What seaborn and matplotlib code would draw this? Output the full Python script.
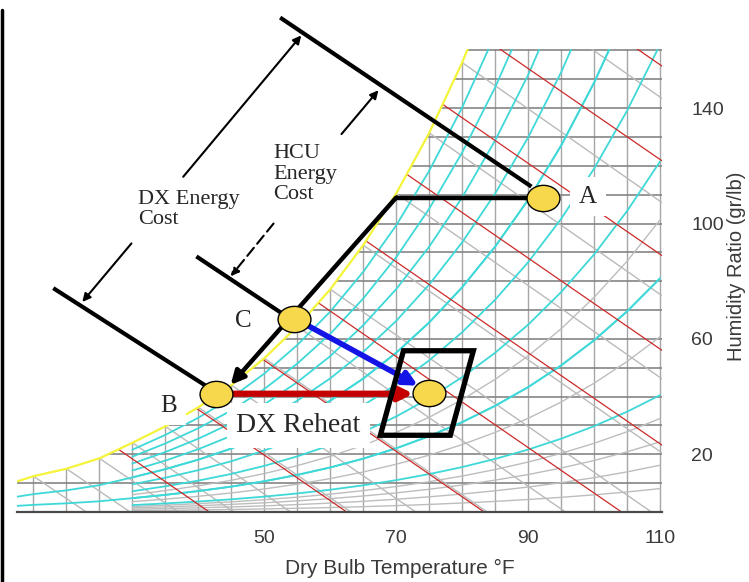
import numpy as np
import matplotlib
matplotlib.use("Agg")
import matplotlib.pyplot as plt
import seaborn as sns
from matplotlib.patches import Polygon
from matplotlib.path import Path
from matplotlib.transforms import Affine2D
from matplotlib.lines import Line2D

# saturation curve (dry bulb F, humidity ratio gr/lb)
sat_temp = [12.5, 15, 20, 25, 30, 35, 40, 45, 50, 55, 60, 65, 70, 75, 80, 85, 90, 95, 100, 105, 110]
sat_w = [10.6, 12.4, 15.0, 18.6, 24.0, 29.7, 36.3, 44.0, 53.3, 64.3, 77.2, 92.5, 110.4, 131.4,
         155.8, 184.0, 216.4, 254.0, 297.6, 347.7, 405.0]

# line families of the chart
rh_levels = [0.1, 0.2, 0.3, 0.4, 0.5, 0.6, 0.7, 0.8, 0.9]
rh_cold_levels = [0.2, 0.5]
rh_gray_levels = [0.02, 0.04, 0.06, 0.08, 0.15, 0.25]
enthalpy_levels = [10, 15, 20, 25, 30, 35, 40, 45, 50]
wetbulb_levels = [15, 20, 25, 30, 35, 40, 45, 50, 55, 60, 65, 70, 75, 80, 85, 90]
grid_temp = list(range(15, 115, 5))
grid_w = list(range(10, 170, 10))
x_ticks = [50, 70, 90, 110]
y_ticks = [20, 60, 100, 140]

# states on the chart
state_names = ["A", "B", "C"]
state_temp = [92.3, 42.6, 54.5, 75.0]
state_w = [109.0, 41.0, 67.0, 41.4]
label_temp = [99.1, 35.5, 46.8]
label_w = [109.3, 36.9, 66.2]

# process path A -> corner -> C -> B
path_temp = [92.3, 70.0]
path_w = [109.0, 109.0]
path_arrow = [(70.0, 109.0), (44.9, 44.1)]
blue_arrow = [(55.9, 65.5), (73.3, 43.8)]
red_arrow = [(44.8, 41.0), (72.6, 41.0)]

# comfort box
zone_temp = [71.1, 81.7, 78.2, 67.6]
zone_w = [55.9, 55.9, 26.6, 26.6]

# enthalpy dimension lines through A, C, B
dim_temp = [[52.4, 90.5], [39.7, 53.3], [18.0, 41.1]]
dim_w = [[171.4, 112.8], [88.6, 67.9], [77.6, 43.8]]
dx_arrows = [[(37.7, 116.2), (55.6, 165.2)], [(29.85, 93.1), (22.4, 72.8)]]
hcu_arrows = [[(61.7, 131.0), (67.3, 146.2)], [(51.4, 100.0), (44.9, 81.7)]]

sns.set_style("white")
plt.rcParams['font.family'] = ['Liberation Sans', 'DejaVu Sans']
serif = ['Liberation Serif', 'DejaVu Serif']

fig = plt.figure(figsize=(7.49, 5.82), dpi=100)
ax = fig.add_axes([17 / 749, 1 - 512 / 582, 645 / 749, 463 / 582])
ax.set_xlim(12.5, 110.3)
ax.set_ylim(0, 160.5)

# region under the saturation curve
clip = Polygon([(12.5, 0)] + list(zip(sat_temp, sat_w)) + [(112, 405), (112, 0)],
               closed=True, transform=ax.transData)

lines = []
for t in grid_temp:
    lines += ax.plot([t, t], [0, 170], color='#a6a6a6', lw=1, zorder=1)
for w in grid_w:
    lines += ax.plot([0, 112], [w, w], color='#858585', lw=1.2, zorder=1)

st = np.array(sat_temp)
sw = np.array(sat_w)
warm = st >= 30
for rh in rh_levels:
    lines += ax.plot(st[warm], rh * sw[warm], color='#3fd8d8', lw=1.3, zorder=2)
for rh in rh_cold_levels:
    lines += ax.plot(st, rh * sw, color='#3fd8d8', lw=1.3, zorder=2)
for rh in rh_gray_levels:
    lines += ax.plot(st[warm], rh * sw[warm], color='#bdbdbd', lw=1, zorder=1.5)

for twb in wetbulb_levels:
    ws = sat_w[sat_temp.index(twb)] / 7000
    t_end = twb + (1093 - 0.556 * twb) * ws / 0.24
    lines += ax.plot([twb, t_end], [ws * 7000, 0], color='#bababa', lw=1, zorder=1.5)

for h in enthalpy_levels:
    w0 = 7000 * (h - 0.24 * 10) / (1061 + 0.444 * 10)
    lines += ax.plot([10, h / 0.24], [w0, 0], color='#cc2a2a', lw=0.9, zorder=2)

for ln in lines:
    ln.set_clip_path(clip)

sns.lineplot(x=sat_temp, y=sat_w, sort=False, color='#f4f43a', lw=1.6, ax=ax, zorder=2)

# axes cosmetics
for side in ['top', 'left', 'right']:
    ax.spines[side].set_visible(False)
ax.spines['bottom'].set_color('#4a4a4a')
ax.spines['bottom'].set_linewidth(1.6)
ax.yaxis.tick_right()
ax.set_xticks(x_ticks)
ax.set_yticks(y_ticks)
ax.tick_params(axis='x', length=0, pad=13, labelsize=14, labelcolor='#3a3a3a')
ax.tick_params(axis='y', length=0, pad=21, labelsize=14, labelcolor='#3a3a3a')
ax.set_xlabel("Dry Bulb Temperature °F", fontsize=15, color='#3a3a3a')
ax.xaxis.set_label_coords((400 - 17) / 645, (512 - 559) / 463)
fig.text(737 / 749, 1 - 266 / 582, "Humidity Ratio (gr/lb)", fontsize=14.5, color='#3a3a3a',
         rotation=90, ha='center', va='center')

# process lines
ax.plot(path_temp, path_w, color='black', lw=3.2, zorder=4, solid_capstyle='butt')
ax.annotate("", xy=path_arrow[1], xytext=path_arrow[0], annotation_clip=False,
            arrowprops=dict(arrowstyle='-|>', color='black', lw=3.2, mutation_scale=20,
                            shrinkA=0, shrinkB=0), zorder=4)
ax.annotate("", xy=blue_arrow[1], xytext=blue_arrow[0], annotation_clip=False,
            arrowprops=dict(arrowstyle='-|>', color='#1414e6', lw=4, mutation_scale=20,
                            shrinkA=0, shrinkB=0), zorder=4)
ax.annotate("", xy=red_arrow[1], xytext=red_arrow[0], annotation_clip=False,
            arrowprops=dict(arrowstyle='-|>', color='#c40000', lw=4.5, mutation_scale=20,
                            shrinkA=0, shrinkB=0), zorder=4)

ax.add_patch(Polygon(list(zip(zone_temp, zone_w)), closed=True, fill=False, ec='black',
                     lw=3.8, joinstyle='miter', zorder=4))

for dt, dw in zip(dim_temp, dim_w):
    ax.plot(dt, dw, color='black', lw=3, zorder=4, clip_on=False, solid_capstyle='butt')

for seg in dx_arrows:
    ax.annotate("", xy=seg[1], xytext=seg[0], annotation_clip=False,
                arrowprops=dict(arrowstyle='-|>', color='black', lw=1.5, mutation_scale=12,
                                shrinkA=0, shrinkB=0))
ax.annotate("", xy=hcu_arrows[0][1], xytext=hcu_arrows[0][0], annotation_clip=False,
            arrowprops=dict(arrowstyle='-|>', color='black', lw=1.5, mutation_scale=12,
                            shrinkA=0, shrinkB=0))
ax.annotate("", xy=hcu_arrows[1][1], xytext=hcu_arrows[1][0], annotation_clip=False,
            arrowprops=dict(arrowstyle='-|>', color='black', lw=1.5, mutation_scale=12,
                            shrinkA=0, shrinkB=0, linestyle=(0, (5, 2.5))))

# state points as yellow ellipses
ell = Path.unit_circle().transformed(Affine2D().scale(1.25, 1.0))
sns.scatterplot(x=state_temp, y=state_w, marker=ell, s=560, color='#f7d84c',
                edgecolor='black', linewidth=1, zorder=6, ax=ax, legend=False)

for name, tx, ty in zip(state_names, label_temp, label_w):
    ax.text(tx, ty, name, family=serif, fontsize=18, ha='center', va='center', zorder=3,
            bbox=dict(boxstyle='square,pad=0.35', fc='white', ec='none'))

ax.text(55.2, 30, "DX Reheat", family=serif, fontsize=20, ha='center', va='center', zorder=3,
        bbox=dict(boxstyle='square,pad=0.35', fc='white', ec='none'))
ax.text(30.9, 111.7, "DX Energy\nCost", family=serif, fontsize=16, ha='left', va='top',
        linespacing=1.1)
ax.text(51.4, 127.5, "HCU\nEnergy\nCost", family=serif, fontsize=16, ha='left', va='top',
        linespacing=1.1)

fig.add_artist(Line2D([0.003, 0.003], [0, 1 - 10 / 582], color='black', lw=2.5,
                      transform=fig.transFigure))

fig.savefig("out.png", dpi=100)
